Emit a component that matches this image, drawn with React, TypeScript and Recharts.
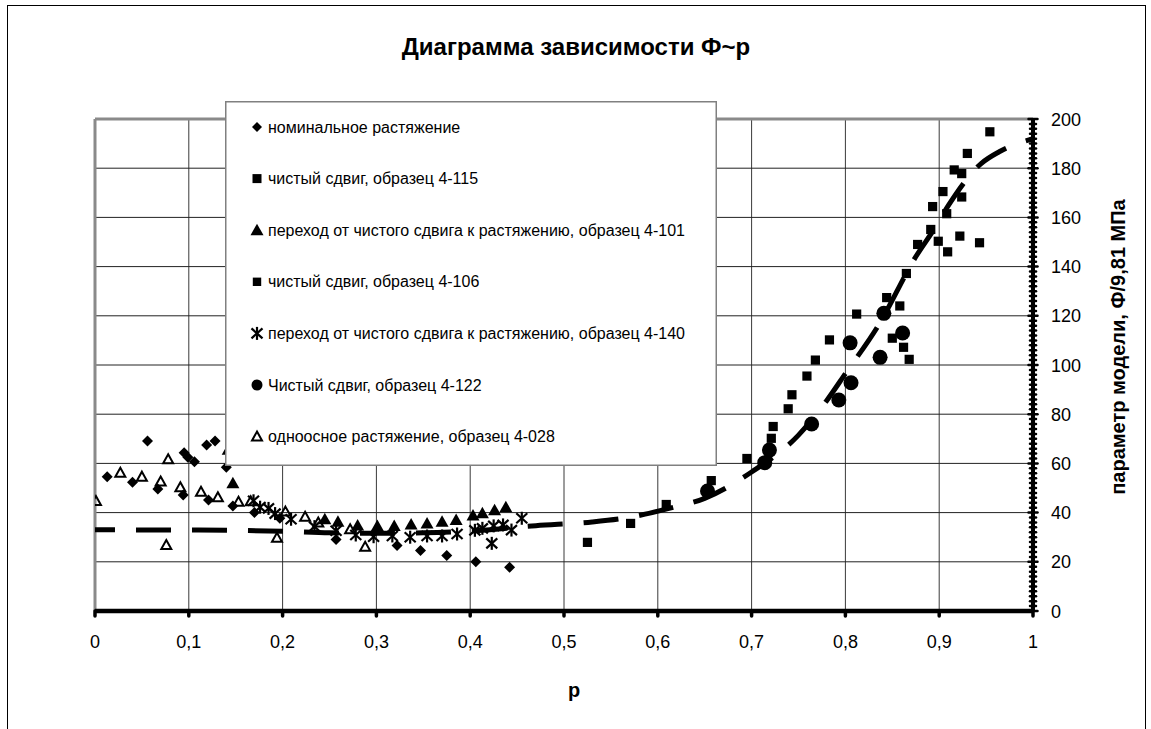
import {
  ComposedChart,
  Scatter,
  Line,
  XAxis,
  YAxis,
  CartesianGrid,
  ReferenceLine,
  Legend,
} from "recharts";

type Pt = [number, number];

const FONT = "Arial, 'Liberation Sans', sans-serif";

// [p, Ф/9,81]
const nominal: Pt[] = [
  [0.013, 54.6], [0.04, 52.3], [0.056, 69.1], [0.067, 49.6], [0.094, 47.2],
  [0.095, 64.3], [0.099, 62.5], [0.106, 60.7], [0.119, 67.5], [0.121, 45.1],
  [0.128, 69.1], [0.14, 58.4], [0.147, 42.7], [0.17, 40.0], [0.197, 37.7],
  [0.257, 29.1], [0.322, 26.6], [0.347, 24.6], [0.375, 22.6], [0.406, 20.0],
  [0.442, 17.8],
];

const shear115: Pt[] = [
  [0.525, 27.9], [0.571, 35.6], [0.609, 43.3], [0.657, 53.0], [0.695, 62.0],
  [0.721, 70.2], [0.739, 82.2], [0.759, 95.5], [0.783, 110.2], [0.812, 120.7],
  [0.844, 127.4], [0.865, 137.2], [0.891, 155.1], [0.904, 170.5], [0.916, 179.3],
  [0.93, 186.0], [0.954, 194.8],
];

const trans101: Pt[] = [
  [0.142, 65.5], [0.147, 51.9], [0.245, 37.3], [0.259, 36.3], [0.28, 34.8],
  [0.301, 34.6], [0.319, 34.6], [0.337, 35.2], [0.354, 35.6], [0.37, 36.3],
  [0.385, 37.0], [0.403, 38.8], [0.413, 39.7], [0.426, 41.0], [0.438, 42.2],
];

const shear106: Pt[] = [
  [0.723, 75.0], [0.743, 87.9], [0.768, 102.0], [0.85, 110.9], [0.858, 124.0],
  [0.862, 107.2], [0.868, 102.3], [0.877, 149.0], [0.893, 164.4], [0.899, 150.3],
  [0.908, 161.5], [0.909, 146.0], [0.922, 152.4], [0.924, 168.3], [0.924, 177.8],
  [0.943, 149.7],
];

const trans140: Pt[] = [
  [0.169, 44.8], [0.176, 42.2], [0.185, 41.7], [0.192, 39.6], [0.209, 37.3],
  [0.234, 34.3], [0.257, 32.6], [0.278, 30.9], [0.297, 30.2], [0.317, 30.5],
  [0.336, 30.0], [0.354, 30.5], [0.37, 30.5], [0.386, 31.3], [0.405, 32.8],
  [0.413, 33.6], [0.423, 27.5], [0.425, 34.6], [0.435, 35.0], [0.444, 32.9],
  [0.455, 37.7],
];

const shear122: Pt[] = [
  [0.653, 48.8], [0.714, 60.3], [0.719, 65.4], [0.764, 76.0], [0.793, 85.8],
  [0.806, 92.8], [0.805, 109.0], [0.837, 103.1], [0.841, 121.0], [0.861, 113.0],
];

const uniaxial028: Pt[] = [
  [0.001, 44.7], [0.027, 56.2], [0.05, 54.6], [0.07, 52.6], [0.076, 26.8],
  [0.078, 61.7], [0.091, 50.3], [0.113, 48.5], [0.131, 46.2], [0.153, 44.4],
  [0.166, 44.6], [0.194, 29.8], [0.203, 40.4], [0.224, 38.3], [0.238, 36.0],
  [0.272, 33.2], [0.288, 26.1],
];

// линия тренда
const trend: Pt[] = [
  [0, 33.0], [0.1, 32.9], [0.2, 32.4], [0.25, 31.8], [0.3, 31.6], [0.35, 31.8],
  [0.4, 32.5], [0.47, 34.7], [0.53, 36.2], [0.573, 38.3], [0.612, 41.7],
  [0.65, 45.8], [0.7, 56.5], [0.75, 71.5], [0.78, 85.5], [0.8, 96.5],
  [0.835, 116.0], [0.875, 144.0], [0.895, 155.5], [0.91, 165.0], [0.945, 182.0],
  [0.964, 186.7], [1, 192.0],
];

const seriesNames = [
  "номинальное растяжение",
  "чистый сдвиг, образец 4-115",
  "переход от чистого сдвига к растяжению, образец 4-101",
  "чистый сдвиг, образец 4-106",
  "переход от чистого сдвига к растяжению, образец 4-140",
  "Чистый сдвиг, образец 4-122",
  "одноосное растяжение, образец 4-028",
];

const xTicks = [0, 0.1, 0.2, 0.3, 0.4, 0.5, 0.6, 0.7, 0.8, 0.9, 1];
const xTickLabels = ["0", "0,1", "0,2", "0,3", "0,4", "0,5", "0,6", "0,7", "0,8", "0,9", "1"];
const yMajor = [0, 20, 40, 60, 80, 100, 120, 140, 160, 180, 200];
const yTicks = Array.from({ length: 101 }, (_, i) => i * 2);

const toPts = (arr: Pt[]) => arr.map(([p, v]) => ({ p, v }));

// маркеры
const diamond = (cx: number, cy: number, s = 5.5) => (
  <polygon points={`${cx},${cy - s} ${cx + s},${cy} ${cx},${cy + s} ${cx - s},${cy}`} fill="#000" />
);
const square = (cx: number, cy: number, s = 4.6) => (
  <rect x={cx - s} y={cy - s} width={s * 2} height={s * 2} fill="#000" />
);
const triangle = (cx: number, cy: number) => (
  <polygon points={`${cx},${cy - 6.5} ${cx + 6.5},${cy + 5} ${cx - 6.5},${cy + 5}`} fill="#000" />
);
const openTriangle = (cx: number, cy: number) => (
  <polygon
    points={`${cx},${cy - 5} ${cx + 5},${cy + 4} ${cx - 5},${cy + 4}`}
    fill="none"
    stroke="#000"
    strokeWidth={2}
    strokeLinejoin="miter"
  />
);
const star = (cx: number, cy: number) => (
  <g stroke="#000" strokeWidth={2.2}>
    <line x1={cx} y1={cy - 6.5} x2={cx} y2={cy + 6.5} />
    <line x1={cx - 5.5} y1={cy - 5} x2={cx + 5.5} y2={cy + 5} />
    <line x1={cx + 5.5} y1={cy - 5} x2={cx - 5.5} y2={cy + 5} />
  </g>
);
const dot = (cx: number, cy: number, r = 7.5) => <circle cx={cx} cy={cy} r={r} fill="#000" />;

const markers = [
  (cx: number, cy: number) => diamond(cx, cy, 5),
  (cx: number, cy: number) => square(cx, cy, 4.5),
  (cx: number, cy: number) => triangle(cx, cy),
  (cx: number, cy: number) => square(cx, cy, 4.2),
  (cx: number, cy: number) => star(cx, cy),
  (cx: number, cy: number) => dot(cx, cy, 5.5),
  (cx: number, cy: number) => openTriangle(cx, cy),
];

function XTick(props: any) {
  const { x, y, payload } = props;
  const i = xTicks.indexOf(payload.value);
  return (
    <g>
      <line x1={x} x2={x} y1={y} y2={y + 5} stroke="#000" strokeWidth={3.5} strokeLinecap="round" />
      <text x={x} y={y + 37} textAnchor="middle" fontSize={18} fontFamily={FONT} fill="#000">
        {xTickLabels[i] ?? ""}
      </text>
    </g>
  );
}

function YTick(props: any) {
  const { x, y, payload } = props;
  const v = payload.value as number;
  const major = yMajor.includes(v);
  const h = major ? 4.5 : 3;
  return (
    <g>
      <line x1={x - h} x2={x + h} y1={y} y2={y} stroke="#000" strokeWidth={2.5} strokeLinecap="round" />
      {major && (
        <text x={x + 18} y={y} dy={6.5} fontSize={18} fontFamily={FONT} fill="#000">
          {v}
        </text>
      )}
    </g>
  );
}

function LegendBox() {
  return (
    <svg width={492} height={365} style={{ display: "block" }}>
      <rect x={0.75} y={0.75} width={490.5} height={363.5} fill="#fff" stroke="#808080" strokeWidth={1.5} />
      {seriesNames.map((name, i) => {
        const cy = 26 + i * 51.6;
        return (
          <g key={name}>
            {markers[i](32, cy)}
            <text x={43} y={cy} dy={5.5} fontSize={16} fontFamily={FONT} fill="#000">
              {name}
            </text>
          </g>
        );
      })}
    </svg>
  );
}

export default function App() {
  return (
    <div
      style={{
        position: "absolute",
        left: 0,
        top: 0,
        width: 1151,
        height: 729,
        overflow: "hidden",
        background: "#fff",
        fontFamily: FONT,
      }}
    >
      {/* рамка диаграммы */}
      <div
        style={{
          position: "absolute",
          left: 7,
          top: 5,
          width: 1137,
          height: 800,
          border: "1.5px solid #000",
        }}
      />
      <div
        style={{
          position: "absolute",
          left: 7,
          width: 1138,
          top: 33,
          textAlign: "center",
          fontSize: 24,
          fontWeight: "bold",
          color: "#000",
        }}
      >
        Диаграмма зависимости Ф~p
      </div>

      <div style={{ position: "absolute", left: 0, top: 0 }}>
        <ComposedChart width={1151} height={729} margin={{ top: 119, right: 0, bottom: 0, left: 95 }}>
          <CartesianGrid horizontal={false} stroke="#3a3a3a" strokeWidth={1} />
          {yMajor.slice(1, -1).map((v) => (
            <ReferenceLine key={v} y={v} stroke="#222" strokeWidth={1} />
          ))}
          <ReferenceLine y={200} stroke="#8a8a8a" strokeWidth={3} />
          <ReferenceLine x={0} stroke="#8a8a8a" strokeWidth={3} />

          <XAxis
            type="number"
            dataKey="p"
            domain={[0, 1]}
            ticks={xTicks}
            interval={0}
            height={118}
            tickSize={0}
            tickMargin={0}
            tick={<XTick />}
            axisLine={{ stroke: "#000", strokeWidth: 4.5 }}
            tickLine={false}
            allowDataOverflow
            label={{
              content: (props: any) => {
                const vb = props.viewBox;
                return (
                  <text
                    x={vb.x + vb.width / 2 + 10}
                    y={vb.y + 86}
                    textAnchor="middle"
                    fontSize={20}
                    fontWeight="bold"
                    fontFamily={FONT}
                    fill="#000"
                  >
                    p
                  </text>
                );
              },
            }}
          />
          <YAxis
            type="number"
            dataKey="v"
            orientation="right"
            domain={[0, 200]}
            ticks={yTicks}
            interval={0}
            width={118}
            tickSize={0}
            tickMargin={0}
            tick={<YTick />}
            axisLine={{ stroke: "#000", strokeWidth: 4 }}
            tickLine={false}
            allowDataOverflow
            label={{
              content: (props: any) => {
                const vb = props.viewBox;
                const cx = vb.x + 85;
                const cy = vb.y + 228;
                return (
                  <text
                    x={cx}
                    y={cy}
                    transform={`rotate(-90 ${cx} ${cy})`}
                    textAnchor="middle"
                    dominantBaseline="central"
                    fontSize={20}
                    fontWeight="bold"
                    fontFamily={FONT}
                    fill="#000"
                  >
                    параметр модели, Ф/9,81 МПа
                  </text>
                );
              },
            }}
          />

          <Line
            data={toPts(trend)}
            dataKey="v"
            type="monotone"
            stroke="#000"
            strokeWidth={5}
            strokeDasharray="35 21"
            strokeDashoffset={15}
            dot={false}
            activeDot={false}
            isAnimationActive={false}
            legendType="none"
          />

          <Scatter name={seriesNames[0]} data={toPts(nominal)} dataKey="v" isAnimationActive={false}
            shape={(p: any) => diamond(p.cx, p.cy)} />
          <Scatter name={seriesNames[6]} data={toPts(uniaxial028)} dataKey="v" isAnimationActive={false}
            shape={(p: any) => openTriangle(p.cx, p.cy)} />
          <Scatter name={seriesNames[2]} data={toPts(trans101)} dataKey="v" isAnimationActive={false}
            shape={(p: any) => triangle(p.cx, p.cy)} />
          <Scatter name={seriesNames[4]} data={toPts(trans140)} dataKey="v" isAnimationActive={false}
            shape={(p: any) => star(p.cx, p.cy)} />
          <Scatter name={seriesNames[1]} data={toPts(shear115)} dataKey="v" isAnimationActive={false}
            shape={(p: any) => square(p.cx, p.cy)} />
          <Scatter name={seriesNames[3]} data={toPts(shear106)} dataKey="v" isAnimationActive={false}
            shape={(p: any) => square(p.cx, p.cy)} />
          <Scatter name={seriesNames[5]} data={toPts(shear122)} dataKey="v" isAnimationActive={false}
            shape={(p: any) => dot(p.cx, p.cy)} />

          <Legend
            layout="vertical"
            align="center"
            verticalAlign="middle"
            wrapperStyle={{ left: 225, top: 101, width: 492, height: 365 }}
            content={() => <LegendBox />}
          />
        </ComposedChart>
      </div>
    </div>
  );
}
